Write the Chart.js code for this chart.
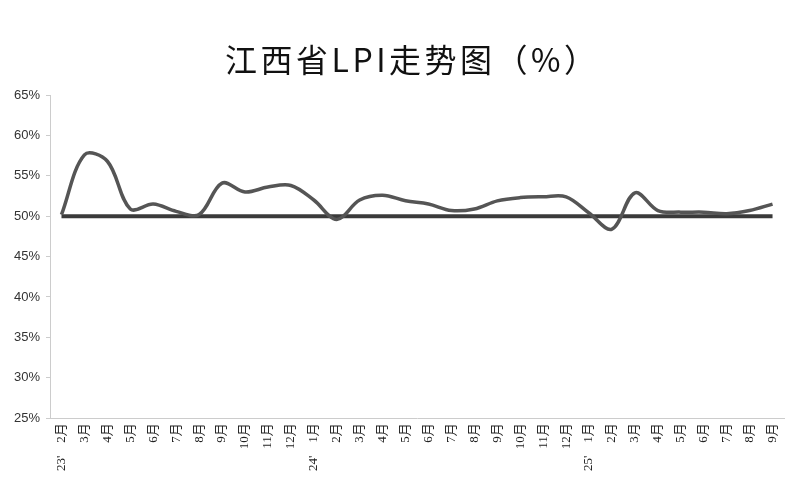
<!DOCTYPE html>
<html>
<head>
<meta charset="utf-8">
<script src="https://cdn.jsdelivr.net/npm/chart.js@4"></script>
<style>
  html, body { margin: 0; padding: 0; background: #fff; }
  #wrap { width: 800px; height: 497px; }
</style>
</head>
<body>
<div id="wrap"><canvas id="lpi-chart" width="800" height="497"></canvas></div>
<script>
// 月份和年份标记
const meses = ["2月", "3月", "4月", "5月", "6月", "7月", "8月", "9月", "10月", "11月", "12月",
  "1月", "2月", "3月", "4月", "5月", "6月", "7月", "8月", "9月", "10月", "11月", "12月",
  "1月", "2月", "3月", "4月", "5月", "6月", "7月", "8月", "9月"];
const anios = ["23'", "", "", "", "", "", "", "", "", "", "",
  "24'", "", "", "", "", "", "", "", "", "", "", "",
  "25'", "", "", "", "", "", "", "", ""];

// 江西省LPI
const valoresLPI = [50.2, 57.6, 56.8, 50.9, 51.5, 50.6, 50.2, 54.1, 53.0, 53.6, 53.8,
  52.0, 49.6, 52.0, 52.6, 51.9, 51.5, 50.7, 50.9, 51.9, 52.3, 52.4, 52.4,
  50.4, 48.4, 52.9, 50.7, 50.5, 50.5, 50.3, 50.7, 51.5];
const lineaBase = 50;
const titulo = "江西省LPI走势图（%）";

const etiquetas = meses.map((mes, i) => (anios[i] ? anios[i] + "    " + mes : mes));

// título dibujado a mano para poder centrarlo bien
const pluginTitulo = {
  id: "tituloLPI",
  afterDraw(chart) {
    const ctx = chart.ctx;
    ctx.save();
    ctx.font = "32px 'Noto Sans CJK SC'";
    ctx.letterSpacing = "3.5px";
    ctx.fillStyle = "#111";
    ctx.textAlign = "left";
    ctx.textBaseline = "alphabetic";
    const m = ctx.measureText(titulo);
    const ancho = m.actualBoundingBoxLeft + m.actualBoundingBoxRight;
    const alto = m.actualBoundingBoxAscent + m.actualBoundingBoxDescent;
    const x = 400 - ancho / 2 + m.actualBoundingBoxLeft;
    const y = 60 - alto / 2 + m.actualBoundingBoxAscent;
    ctx.fillText(titulo, x, y);
    ctx.restore();
  },
};

const datasets = [
  {
    label: "LPI",
    data: valoresLPI,
    borderColor: "#555555",
    borderWidth: 3.5,
    pointRadius: 0,
    tension: 0.35,
    fill: false,
  },
  {
    label: "50%",
    data: valoresLPI.map(() => lineaBase),
    borderColor: "#3a3a3a",
    borderWidth: 4,
    pointRadius: 0,
    fill: false,
  },
];

const config = {
  type: "line",
  data: { labels: etiquetas, datasets },
  options: {
    responsive: false,
    animation: false,
    layout: { padding: { left: 8, right: 16, top: 95, bottom: 21 } },
    plugins: {
      legend: { display: false },
      tooltip: { enabled: false },
      title: { display: false },
    },
    scales: {
      x: {
        offset: true,
        grid: { drawOnChartArea: false, drawTicks: false },
        border: { color: "#cccccc", width: 1 },
        ticks: {
          autoSkip: false,
          minRotation: 90,
          maxRotation: 90,
          padding: 5,
          color: "#222",
          font: { family: "'Liberation Serif', 'Noto Sans CJK SC'", size: 13 },
        },
      },
      y: {
        min: 25,
        max: 65,
        grid: { drawOnChartArea: false, tickLength: 4, color: "#cccccc" },
        border: { color: "#cccccc", width: 1 },
        ticks: {
          stepSize: 5,
          padding: 6,
          color: "#333",
          font: { family: "'Liberation Sans', Arial", size: 13 },
          callback: (v) => v + "%",
        },
      },
    },
  },
  plugins: [pluginTitulo],
};

new Chart(document.getElementById("lpi-chart"), config);
</script>
</body>
</html>
